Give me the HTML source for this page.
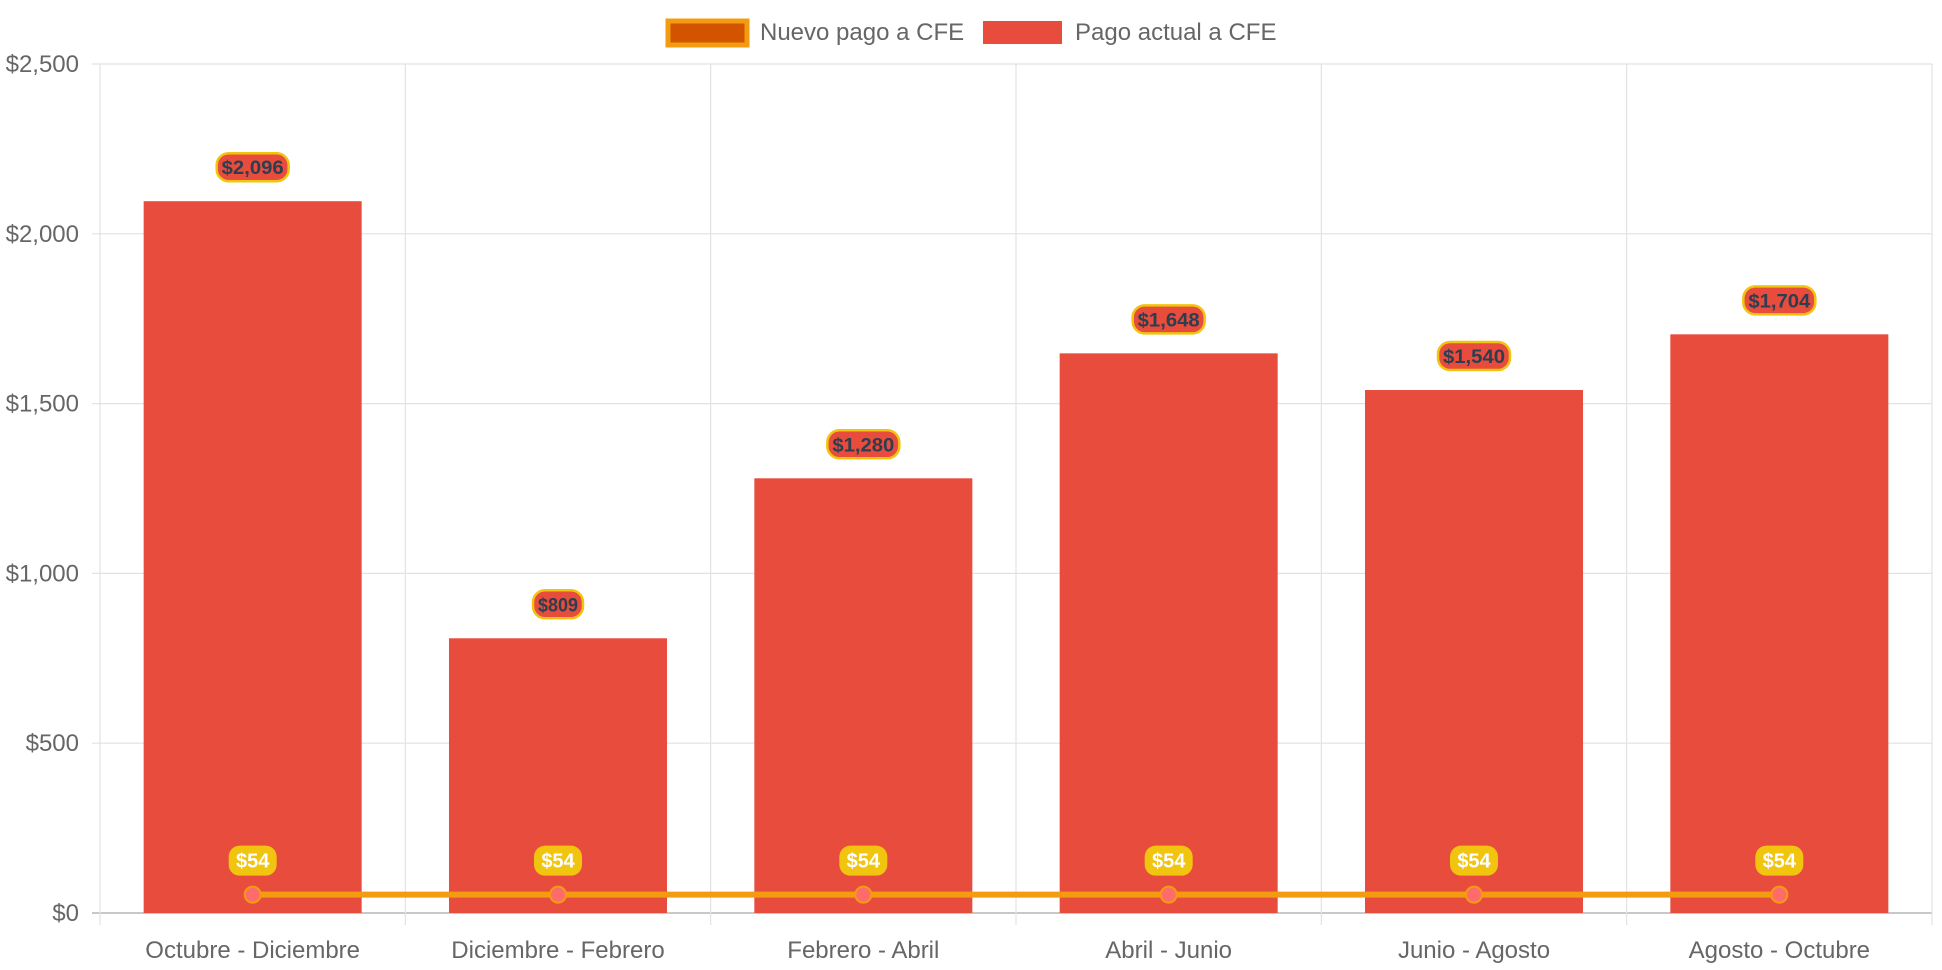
<!DOCTYPE html>
<html><head><meta charset="utf-8"><style>
html,body{margin:0;padding:0;background:#fff;width:1942px;height:970px;overflow:hidden}
svg{display:block;font-family:"Liberation Sans",Arial,sans-serif}
</style></head><body>
<svg id="chart" width="1942" height="970" viewBox="0 0 1942 970"></svg>
<script>
const categories=["Octubre - Diciembre","Diciembre - Febrero","Febrero - Abril","Abril - Junio","Junio - Agosto","Agosto - Octubre"];
const currentPay=[2096,809,1280,1648,1540,1704];
const newPay=[54,54,54,54,54,54];
const yTicks=[0,500,1000,1500,2000,2500];
const yTickLabels=["$0","$500","$1,000","$1,500","$2,000","$2,500"];

const svg=document.getElementById('chart');
const NS='http://www.w3.org/2000/svg';
const L=100,R=1932,T=64,B=913,yMax=2500;
const bw=(R-L)/categories.length;
const y=v=>B-v/yMax*(B-T);
const xc=i=>L+bw*(i+0.5);
function mk(tag,attrs,parent){const e=document.createElementNS(NS,tag);for(const k in attrs)e.setAttribute(k,attrs[k]);(parent||svg).appendChild(e);return e;}
const fmt=v=>'$'+v.toLocaleString('en-US');

const grid=mk('g',{});


yTicks.forEach((t,i)=>{
  mk('line',{x1:L-8,x2:R,y1:y(t),y2:y(t),stroke:i==0?'#c8c8c8':'#e2e2e2','stroke-width':i==0?2:1.2},grid);
  const tx=mk('text',{x:79,y:y(t)+8,'text-anchor':'end','font-size':24,fill:'#666'});
  tx.textContent=yTickLabels[i];
  
  
});
for(let i=0;i<=categories.length;i++){
  mk('line',{x1:L+bw*i,x2:L+bw*i,y1:T,y2:B+12,stroke:'#e2e2e2','stroke-width':1.2},grid);
}
categories.forEach((c,i)=>{
  const tx=mk('text',{x:xc(i),y:958,'text-anchor':'middle','font-size':24,fill:'#666'});
  tx.textContent=c;
  
  
});

currentPay.forEach((v,i)=>{
  const w=bw*0.714;
  const r=mk('rect',{x:xc(i)-w/2,y:y(v),width:w,height:B-y(v),fill:'#e74c3c'});
  
  
});
let d='';
newPay.forEach((v,i)=>{d+=(i?'L':'M')+xc(i)+' '+y(v);});
const ln=mk('path',{d:d,stroke:'#f39c12','stroke-width':6,fill:'none'});


newPay.forEach((v,i)=>{
  const p=mk('circle',{cx:xc(i),cy:y(v),r:8,fill:'#ff6b6b',stroke:'#f39c12','stroke-width':2});
  
  
});
currentPay.forEach((v,i)=>{
  const g=mk('g',{});
  
  
  const cy=y(v)-34,t=fmt(v),w=t.length*11+6;
  mk('rect',{x:xc(i)-w/2,y:cy-14,width:w,height:28,rx:12,fill:'#e74c3c',stroke:'#f1c40f','stroke-width':2.5},g);
  const tx=mk('text',{x:xc(i),y:cy+7,'text-anchor':'middle','font-size':19,'font-weight':'bold',fill:'#2c3e50',textLength:w-10,lengthAdjust:'spacingAndGlyphs'},g);
  tx.textContent=t;
});
newPay.forEach((v,i)=>{
  const g=mk('g',{});
  
  
  const cy=y(v)-34;
  mk('rect',{x:xc(i)-24,y:cy-15,width:48,height:30,rx:11,fill:'#f1c40f'},g);
  const tx=mk('text',{x:xc(i),y:cy+7,'text-anchor':'middle','font-size':20,'font-weight':'bold',fill:'#fff'},g);
  tx.textContent=fmt(v);
});
const lg=mk('g',{});


const l1=mk('g',{},lg);


mk('rect',{x:668,y:21,width:79,height:24,fill:'#d35400',stroke:'#f39c12','stroke-width':5},l1);
const t1=mk('text',{x:760,y:40,'font-size':24,fill:'#666'},l1);t1.textContent='Nuevo pago a CFE';
const l2=mk('g',{},lg);


mk('rect',{x:983,y:21,width:79,height:23,fill:'#e74c3c'},l2);
const t2=mk('text',{x:1075,y:40,'font-size':24,fill:'#666'},l2);t2.textContent='Pago actual a CFE';
</script>
</body></html>
